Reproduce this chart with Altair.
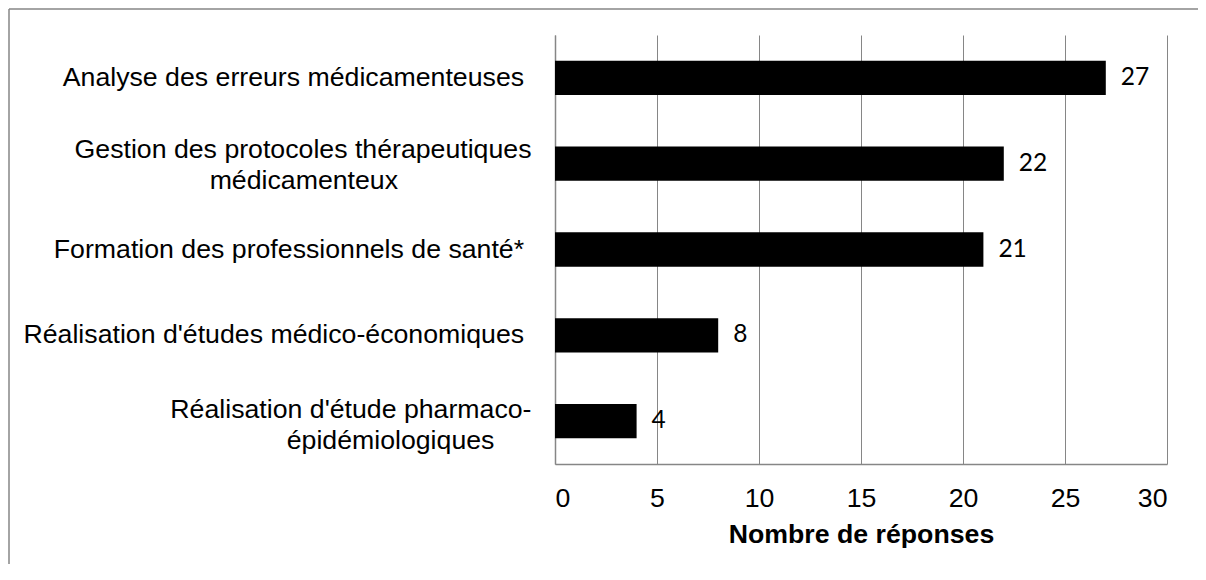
import altair as alt
import pandas as pd

NB = "\u00a0"
END = "\u200b"  # keeps trailing no-break spaces from being trimmed

categories = [
    "Analyse des erreurs médicamenteuses" + NB + END,
    "Gestion des protocoles thérapeutiques|médicamenteux" + NB * 18 + END,
    "Formation des professionnels de santé*" + NB + END,
    "Réalisation d'études médico-économiques" + NB + END,
    "Réalisation d'étude pharmaco-|épidémiologiques" + NB * 5 + END,
]
values = [27, 22, 21, 8, 4]
x_ticks = [0, 5, 10, 15, 20, 25, 30]
x_title = "Nombre de réponses"

df = pd.DataFrame({"categorie": categories, "reponses": values})

GRID = "#868686"
LABEL_FONT = "Liberation Sans"

x_enc = alt.X(
    "reponses:Q",
    scale=alt.Scale(domain=[0, 30], nice=False, zero=True),
    axis=alt.Axis(
        values=x_ticks,
        title=x_title,
        grid=True,
        gridColor=GRID,
        gridWidth=1,
        domainColor=GRID,
        domainWidth=1.5,
        ticks=False,
        tickSize=0,
        labelFont=LABEL_FONT,
        labelFontSize=26.7,
        labelColor="#000000",
        labelPadding=21,
        titleFont=LABEL_FONT,
        titleFontSize=26.7,
        titleFontWeight="bold",
        titleColor="#000000",
        titlePadding=10,
    ),
)
y_enc = alt.Y(
    "categorie:N",
    sort=categories,
    scale=alt.Scale(paddingInner=0.6, paddingOuter=0.3),
    axis=alt.Axis(
        title=None,
        grid=False,
        ticks=False,
        tickSize=0,
        domainColor=GRID,
        domainWidth=1.5,
        labelFont=LABEL_FONT,
        labelFontSize=26.7,
        labelColor="#000000",
        labelPadding=24,
        labelLineHeight=31,
        labelLimit=800,
        labelOffset={
            "condition": [
                {"test": "indexof(datum.value, 'pharmaco') >= 0", "value": -11},
                {"test": "indexof(datum.value, '|') >= 0", "value": -14},
            ],
            "value": 0,
        },
        labelExpr="split(datum.label, '|')",
    ),
)

bars = alt.Chart(df).mark_bar(color="#000000").encode(x=x_enc, y=y_enc)

labels = alt.Chart(df).mark_text(
    align="left", baseline="middle", dx=15, font="Lato", fontSize=24.5, color="#000000"
).encode(
    x=alt.X("reponses:Q"),
    y=alt.Y("categorie:N", sort=categories),
    text=alt.Text("reponses:Q"),
)

one = alt.Data(values=[{"b": 1}])
border_left = alt.Chart(one).mark_rule(color=GRID, strokeWidth=1.5).encode(
    x=alt.value(-546), y=alt.value(-26), y2=alt.value(600)
)
border_top = alt.Chart(one).mark_rule(color=GRID, strokeWidth=1.5).encode(
    x=alt.value(-546), x2=alt.value(700), y=alt.value(-26)
)

chart = alt.layer(border_left, border_top, bars, labels).properties(
    width=612,
    height=429,
    padding={"left": 547, "top": 27, "right": 31, "bottom": 100},
    autosize=alt.AutoSizeParams(type="none"),
).configure_view(stroke=None)

chart.save("out.html", embed_options={"renderer": "svg", "actions": False})
